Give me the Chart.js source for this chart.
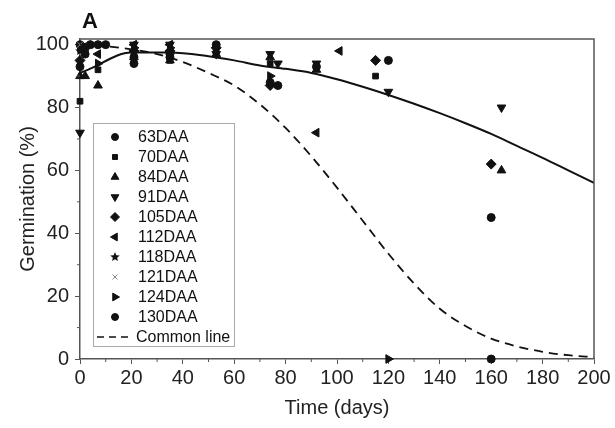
<!DOCTYPE html>
<html>
<head>
<meta charset="utf-8">
<script src="https://cdn.jsdelivr.net/npm/chart.js@4.4.1/dist/chart.umd.min.js"></script>
<style>
    html, body { margin: 0; padding: 0; background: #fff; }
    #wrap { position: relative; width: 615px; height: 428px; }
</style>
</head>
<body>
<div id="wrap"><canvas id="germination_chart"></canvas></div>
<script>
"use strict";

// Values (days, germination %)
const xTicks = [0, 20, 40, 60, 80, 100, 120, 140, 160, 180, 200];
const yTicks = [0, 20, 40, 60, 80, 100];

const daa63  = [[0, 93], [2, 97], [7, 100], [21, 96], [35, 97], [53, 100], [74, 88], [92, 93], [120, 95]];
const daa70  = [[0, 82], [7, 92], [21, 96], [35, 95], [53, 98], [74, 94], [115, 90]];
const daa84  = [[0, 90], [2, 90], [7, 87], [21, 96], [35, 95], [53, 97], [74, 96], [92, 92], [164, 60]];
const daa91  = [[0, 72], [2, 98], [21, 100], [35, 100], [53, 97], [74, 97], [77, 94], [92, 94], [120, 85], [164, 80]];
const daa105 = [[0, 95], [2, 99], [21, 98], [35, 98], [53, 99], [74, 87], [115, 95], [160, 62]];
const daa112 = [[2, 99], [7, 97], [21, 100], [35, 100], [92, 72], [101, 98]];
const daa118 = [[0, 98], [4, 100]];
const daa121 = [[0, 100]];
const daa124 = [[0, 99], [7, 94], [21, 99], [35, 99], [74, 90], [120, 0]];
const daa130 = [[0, 100], [4, 100], [10, 100], [21, 94], [35, 96], [77, 87], [160, 45], [160, 0]];

// fitted curve (solid) and common line (dashed)
const fitDays     = [0, 3, 20, 35, 50, 60, 70, 80, 90, 100, 110, 120, 130, 140, 150, 160, 170, 180, 190, 200];
const fitValues   = [91, 92, 97.5, 97.5, 96.3, 95, 93.4, 92.3, 91, 89, 86.6, 84, 81.2, 78.2, 75, 71.6, 67.8, 64, 60, 56];
const commonDays   = [0, 10, 20, 30, 40, 50, 60, 70, 80, 90, 100, 110, 120, 130, 140, 150, 160, 170, 180, 190, 200];
const commonValues = [100, 99.5, 98.5, 97, 94.5, 91, 87, 81, 73.5, 64.5, 54.5, 44, 33.5, 24, 16, 10.5, 6.5, 4, 2.3, 1.2, 0.6];

var GerminationChart = function () {
    var toPoints = function (pairs) {
        return pairs.map(function (p) { return { x: p[0], y: p[1] }; });
    };
    var toLine = function (xs, ys) {
        return xs.map(function (x, i) { return { x: x, y: ys[i] }; });
    };

    // Chart.js only has an outlined star, the figure uses a filled one
    var makeStar = function (size, color) {
        var c = document.createElement('canvas');
        c.width = size;
        c.height = size;
        var g = c.getContext('2d');
        var r = size / 2, ri = r * 0.45;
        g.fillStyle = color;
        g.beginPath();
        for (var i = 0; i < 10; i++) {
            var a = -Math.PI / 2 + i * Math.PI / 5;
            var rr = i % 2 === 0 ? r : ri;
            g.lineTo(r + rr * Math.cos(a), r + rr * Math.sin(a));
        }
        g.closePath();
        g.fill();
        return c;
    };
    var star = makeStar(10, '#111');

    var series = [
        { label: '63DAA',  data: daa63,  style: 'circle',   rotation: 0,   radius: 4 },
        { label: '70DAA',  data: daa70,  style: 'rect',     rotation: 0,   radius: 4 },
        { label: '84DAA',  data: daa84,  style: 'triangle', rotation: 0,   radius: 5 },
        { label: '91DAA',  data: daa91,  style: 'triangle', rotation: 180, radius: 5 },
        { label: '105DAA', data: daa105, style: 'rectRot',  rotation: 0,   radius: 5 },
        { label: '112DAA', data: daa112, style: 'triangle', rotation: 270, radius: 5 },
        { label: '118DAA', data: daa118, style: star,       rotation: 0,   radius: 5 },
        { label: '121DAA', data: daa121, style: 'crossRot', rotation: 0,   radius: 4, color: '#888' },
        { label: '124DAA', data: daa124, style: 'triangle', rotation: 90,  radius: 5 },
        { label: '130DAA', data: daa130, style: 'circle',   rotation: 0,   radius: 4 }
    ];

    // minor ticks, frame, panel letter and the boxed legend
    var decorations = {
        id: 'decorations',
        afterDraw: function (chart) {
            var ctx = chart.ctx;
            var area = chart.chartArea;
            var xs = chart.scales.x, ys = chart.scales.y;
            ctx.save();
            ctx.strokeStyle = '#555';
            ctx.lineWidth = 1.5;
            ctx.beginPath();
            ctx.moveTo(area.left, area.top);
            ctx.lineTo(area.right, area.top);
            ctx.lineTo(area.right, area.bottom);
            ctx.stroke();

            ctx.lineWidth = 1;
            ctx.beginPath();
            for (var v = 10; v < 200; v += 20) {
                var px = xs.getPixelForValue(v);
                ctx.moveTo(px, area.bottom);
                ctx.lineTo(px, area.bottom + 3);
            }
            for (var w = 10; w < 100; w += 20) {
                var py = ys.getPixelForValue(w);
                ctx.moveTo(area.left, py);
                ctx.lineTo(area.left - 3, py);
            }
            ctx.stroke();

            ctx.fillStyle = '#111';
            ctx.font = 'bold 22px "Liberation Sans", Arial, sans-serif';
            ctx.textBaseline = 'alphabetic';
            ctx.fillText('A', area.left + 2, 28);

            // legend box
            var bx = area.left + 13, by = 123, bw = 141, bh = 223;
            ctx.fillStyle = '#fff';
            ctx.fillRect(bx, by, bw, bh);
            ctx.strokeStyle = '#aaa';
            ctx.lineWidth = 1;
            ctx.strokeRect(bx + 0.5, by + 0.5, bw, bh);

            ctx.font = '16px "Liberation Sans", Arial, sans-serif';
            ctx.textBaseline = 'middle';
            var rowY = by + 14;
            series.forEach(function (s) {
                var c = s.color || '#111';
                ctx.fillStyle = c;
                ctx.strokeStyle = c;
                ctx.lineWidth = 1;
                Chart.helpers.drawPoint(ctx, {
                    pointStyle: s.style,
                    rotation: s.rotation,
                    radius: s.radius - 0.5,
                    borderWidth: 1
                }, bx + 22, rowY);
                ctx.fillStyle = '#111';
                ctx.fillText(s.label, bx + 45, rowY + 1);
                rowY += 20;
            });
            ctx.strokeStyle = '#111';
            ctx.lineWidth = 1.5;
            ctx.setLineDash([7, 5]);
            ctx.beginPath();
            ctx.moveTo(bx + 4, rowY);
            ctx.lineTo(bx + 40, rowY);
            ctx.stroke();
            ctx.setLineDash([]);
            ctx.fillText('Common line', bx + 43, rowY + 1);
            ctx.restore();
        }
    };

    var initChart = function () {
        var element = document.getElementById('germination_chart');
        if (!element) {
            return;
        }

        var datasets = series.map(function (s) {
            var c = s.color || '#111';
            return {
                type: 'scatter',
                label: s.label,
                data: toPoints(s.data),
                pointStyle: s.style,
                rotation: s.rotation,
                pointRadius: s.radius,
                backgroundColor: c,
                borderColor: c,
                borderWidth: 1,
                clip: false,
                order: 2
            };
        });

        datasets.push({
            type: 'line',
            label: 'Fit',
            data: toLine(fitDays, fitValues),
            borderColor: '#111',
            borderWidth: 2,
            pointRadius: 0,
            cubicInterpolationMode: 'monotone',
            fill: false,
            order: 1
        });
        datasets.push({
            type: 'line',
            label: 'Common line',
            data: toLine(commonDays, commonValues),
            borderColor: '#111',
            borderWidth: 1.8,
            borderDash: [9, 6],
            pointRadius: 0,
            cubicInterpolationMode: 'monotone',
            fill: false,
            order: 1
        });

        var tickFont = { family: '"Liberation Sans", Arial, sans-serif', size: 20 };
        var titleFont = { family: '"Liberation Sans", Arial, sans-serif', size: 20 };

        var config = {
            type: 'scatter',
            data: { datasets: datasets },
            options: {
                responsive: false,
                animation: false,
                layout: { padding: { top: 39, right: 21, left: 0, bottom: 0 } },
                scales: {
                    x: {
                        type: 'linear',
                        min: 0,
                        max: 200,
                        afterFit: function (scale) { scale.height = 69; },
                        afterBuildTicks: function (scale) {
                            scale.ticks = xTicks.map(function (v) { return { value: v }; });
                        },
                        grid: { display: true, drawOnChartArea: false, tickLength: 5, color: '#555' },
                        border: { color: '#555', width: 1.5 },
                        ticks: { font: tickFont, color: '#222', padding: 2, maxRotation: 0 },
                        title: { display: true, text: 'Time (days)', font: titleFont, color: '#222', padding: { top: 0, bottom: 8 } }
                    },
                    y: {
                        type: 'linear',
                        min: 0,
                        max: 101.8,
                        afterFit: function (scale) { scale.width = 80; },
                        afterBuildTicks: function (scale) {
                            scale.ticks = yTicks.map(function (v) { return { value: v }; });
                        },
                        grid: { display: true, drawOnChartArea: false, tickLength: 5, color: '#555' },
                        border: { color: '#555', width: 1.5 },
                        ticks: { font: tickFont, color: '#222', padding: 6 },
                        title: { display: true, text: 'Germination (%)', font: titleFont, color: '#222', padding: { top: 16, bottom: 0 } }
                    }
                },
                plugins: {
                    legend: { display: false },
                    tooltip: { enabled: false }
                }
            },
            plugins: [decorations]
        };

        element.width = 615;
        element.height = 428;
        var ctx = element.getContext('2d');
        element.chartInstance = new Chart(ctx, config);
    };

    // Public methods
    return {
        init: function () {
            initChart();
        }
    };
}();

document.addEventListener('DOMContentLoaded', function () {
    GerminationChart.init();
});
</script>
</body>
</html>
